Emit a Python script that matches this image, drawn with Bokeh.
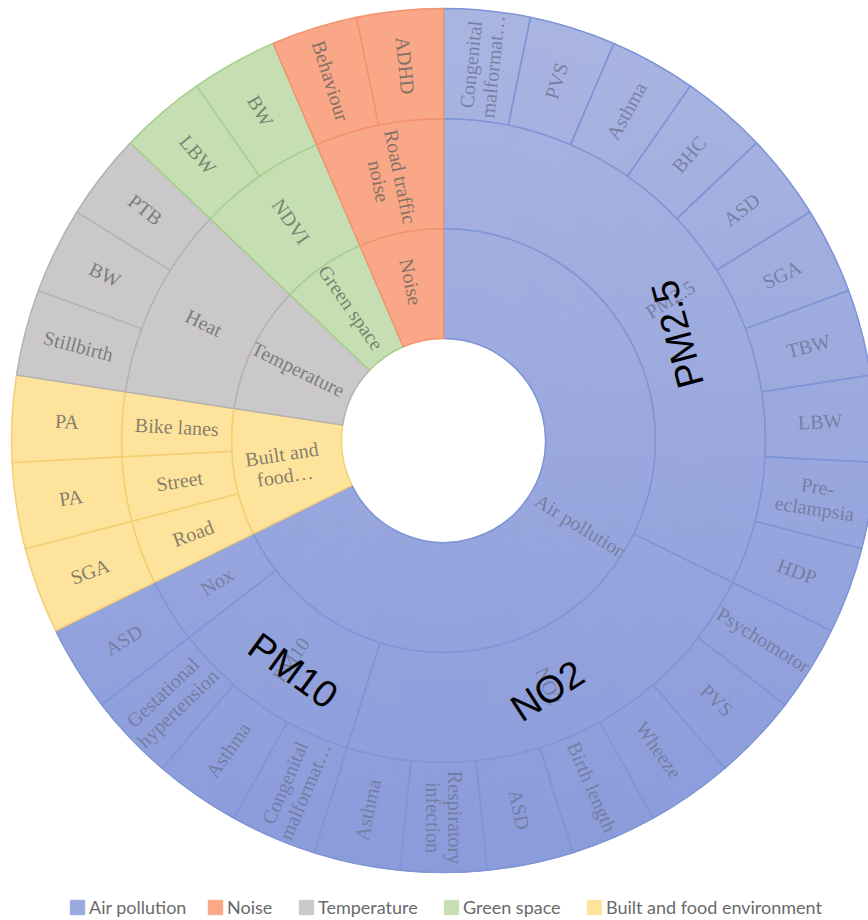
import numpy as np
from bokeh.plotting import figure
from bokeh.models import Range1d, Legend, LegendItem, ColumnDataSource
from bokeh.core.properties import value
from bokeh.embed import file_html
from bokeh.resources import INLINE

# ---------------- data (clockwise from 12 o'clock) ----------------
leaf_l1 = ["Air pollution"] * 21 + ["Built and food environment"] * 3 + ["Temperature"] * 3 + ["Green space"] * 2 + ["Noise"] * 2
leaf_l2 = (["PM2.5"] * 10 + ["NO2"] * 7 + ["PM10"] * 3 + ["Nox"] * 1
           + ["Road", "Street", "Bike lanes"]
           + ["Heat"] * 3 + ["NDVI"] * 2 + ["Road traffic noise"] * 2)
leaf_l3 = ["Congenital malformat…", "PVS", "Asthma", "BHC", "ASD", "SGA", "TBW", "LBW", "Pre-eclampsia", "HDP",
           "Psychomotor", "PVS", "Wheeze", "Birth length", "ASD", "Respiratory infection", "Asthma",
           "Congenital malformat…", "Asthma", "Gestational hypertension",
           "ASD",
           "SGA", "PA", "PA",
           "Stillbirth", "BW", "PTB",
           "LBW", "BW",
           "Behaviour", "ADHD"]
leaf_value = [1, 1, 1, 1, 1, 1, 1, 1, 1, 1,
              1, 1, 1, 1, 1, 1, 1,
              1, 1, 1,
              1,
              1, 1, 1,
              1, 1, 1,
              1, 1,
              1, 1]

legend_order = ["Air pollution", "Noise", "Temperature", "Green space", "Built and food environment"]

# display forms of long labels
display = {
    "Congenital malformat…": "Congenital\nmalformat…",
    "Pre-eclampsia": "Pre-\neclampsia",
    "Respiratory infection": "Respiratory\ninfection",
    "Gestational hypertension": "Gestational\nhypertension",
    "Road traffic noise": "Road traffic\nnoise",
    "Built and food environment": "Built and\nfood…",
}

# ---------------- style ----------------
fill = {"Air pollution": "#99a8de", "Noise": "#f9a787", "Temperature": "#cac8c8",
        "Green space": "#c5dfb3", "Built and food environment": "#fde39c"}
edge = {"Air pollution": "#7f95d6", "Noise": "#f4926f", "Temperature": "#b4b2b2",
        "Green space": "#a7cf8e", "Built and food environment": "#f4cf72"}
txtc = {"Air pollution": "#6f7896", "Noise": "#6e6660", "Temperature": "#6e6e6e",
        "Green space": "#6a7264", "Built and food environment": "#716c60"}
blue_top, blue_bottom = np.array([0xaa, 0xb5, 0xe1]), np.array([0x8a, 0x9b, 0xdb])
radii = [102, 212, 322, 432]

# ---------------- geometry ----------------
vals = np.array(leaf_value, dtype=float)
total = vals.sum()
cum = np.concatenate([[0], np.cumsum(vals)])


def build(keys_list):
    """group consecutive identical keys -> (key tuple, start, end) in compass degrees"""
    out = []
    i = 0
    n = len(vals)
    while i < n:
        j = i
        while j + 1 < n and keys_list[j + 1] == keys_list[i]:
            j += 1
        out.append((keys_list[i], cum[i] / total * 360.0, cum[j + 1] / total * 360.0))
        i = j + 1
    return out


def blue_at(y):
    t = np.clip((y + radii[-1]) / (2 * radii[-1]), 0, 1)
    c = blue_bottom + (blue_top - blue_bottom) * t
    return "#%02x%02x%02x" % tuple(int(round(v)) for v in c)


lvl_keys = [
    [(a,) for a in leaf_l1],
    [(a, b) for a, b in zip(leaf_l1, leaf_l2)],
    [(a, b, c, k) for k, (a, b, c) in enumerate(zip(leaf_l1, leaf_l2, leaf_l3))],
]

W, H = 868, 920
CX, CY = 443, 440
p = figure(width=W, height=H, x_range=Range1d(-CX, W - CX), y_range=Range1d(CY - H, CY),
           output_backend="svg", toolbar_location=None, min_border=0,
           x_axis_type=None, y_axis_type=None)
p.grid.visible = False
p.outline_line_color = None
p.background_fill_color = "white"
p.border_fill_color = "white"

ser = value("Liberation Serif")
for lvl in range(3):
    segs = build(lvl_keys[lvl])
    cat = [s[0][0] for s in segs]
    name = [s[0][lvl] for s in segs]
    c0 = np.array([s[1] for s in segs])
    c1 = np.array([s[2] for s in segs])
    start = np.radians(90 - c1)
    end = np.radians(90 - c0)
    mid = (start + end) / 2
    rin, rout = radii[lvl], radii[lvl + 1]

    # vertical-gradient fill for the blue (air pollution) segments, in small pieces
    gs, ge, gi, go, gc = [], [], [], [], []
    for k, c in enumerate(cat):
        if c != "Air pollution":
            continue
        na = int(np.ceil(np.degrees(end[k] - start[k]) / 2.0))
        ab = np.linspace(start[k], end[k], na + 1)
        rb = np.linspace(rin, rout, 5)
        for a0, a1 in zip(ab[:-1], ab[1:]):
            for r0, r1 in zip(rb[:-1], rb[1:]):
                gs.append(a0); ge.append(a1); gi.append(r0); go.append(r1)
                gc.append(blue_at(0.5 * (r0 + r1) * np.sin(0.5 * (a0 + a1))))
    if gs:
        p.annular_wedge(x=0, y=0, inner_radius="ri", outer_radius="ro", start_angle="s", end_angle="e",
                        direction="anticlock", fill_color="c", line_color="c", line_width=1.0,
                        source=ColumnDataSource(dict(s=gs, e=ge, ri=gi, ro=go, c=gc)))

    rmid = (rin + rout) / 2 + (5 if lvl == 0 else 0)
    rot = np.where(np.cos(mid) < -1e-9, mid + np.pi, mid)
    src = ColumnDataSource(dict(
        start=start, end=end,
        fill=[fill[c] for c in cat], falpha=[0.0 if c == "Air pollution" else 1.0 for c in cat],
        edge=[edge[c] for c in cat],
        tx=rmid * np.cos(mid), ty=rmid * np.sin(mid), rot=rot,
        label=[display.get(n, n) for n in name], tcol=[txtc[c] for c in cat]))
    p.annular_wedge(x=0, y=0, inner_radius=rin, outer_radius=rout,
                    start_angle="start", end_angle="end", direction="anticlock",
                    fill_color="fill", fill_alpha="falpha", line_color="edge", line_width=1.5, source=src)
    p.text(x="tx", y="ty", text="label", angle="rot", text_align="center", text_baseline="middle",
           text_font=ser, text_font_size="20px", text_color="tcol", text_alpha=0.85,
           text_line_height=1.0, source=src)

# ---------------- black overlay annotations on level 2 ----------------
segs2 = build(lvl_keys[1])
overlay = {"PM2.5": (-7.5, 105.0, 257), "NO2": (-0.7, 33.0, 271), "PM10": (1.7, -36.0, 275)}
ox, oy, ot, oa = [], [], [], []
for key, a0, a1 in segs2:
    if key[1] in overlay:
        dshift, rotd, rr = overlay[key[1]]
        m = np.radians(90 - (a0 + a1) / 2 + dshift)
        ox.append(rr * np.cos(m)); oy.append(rr * np.sin(m))
        ot.append(key[1]); oa.append(np.radians(rotd))
p.text(x=ox, y=oy, text=ot, angle=oa, text_align="center", text_baseline="middle",
       text_font=value("Liberation Sans"), text_font_size="38px", text_color="black")

# ---------------- legend (one block per entry, placed along the bottom) ----------------
legend_x = [68, 206, 297, 442, 585]
for c, lx in zip(legend_order, legend_x):
    r = p.quad(left=[np.nan], right=[np.nan], top=[np.nan], bottom=[np.nan],
               fill_color=fill[c], line_color=fill[c])
    leg = Legend(items=[LegendItem(label=c, renderers=[r])], location=(lx, 2),
                 label_text_font="Lato", label_text_font_size="18px", label_text_color="#6a6a6a",
                 glyph_width=18, glyph_height=18, label_standoff=3, padding=0, margin=0,
                 border_line_alpha=0, background_fill_alpha=0, label_height=18)
    p.add_layout(leg)

open("out.html", "w").write(file_html(p, INLINE))
